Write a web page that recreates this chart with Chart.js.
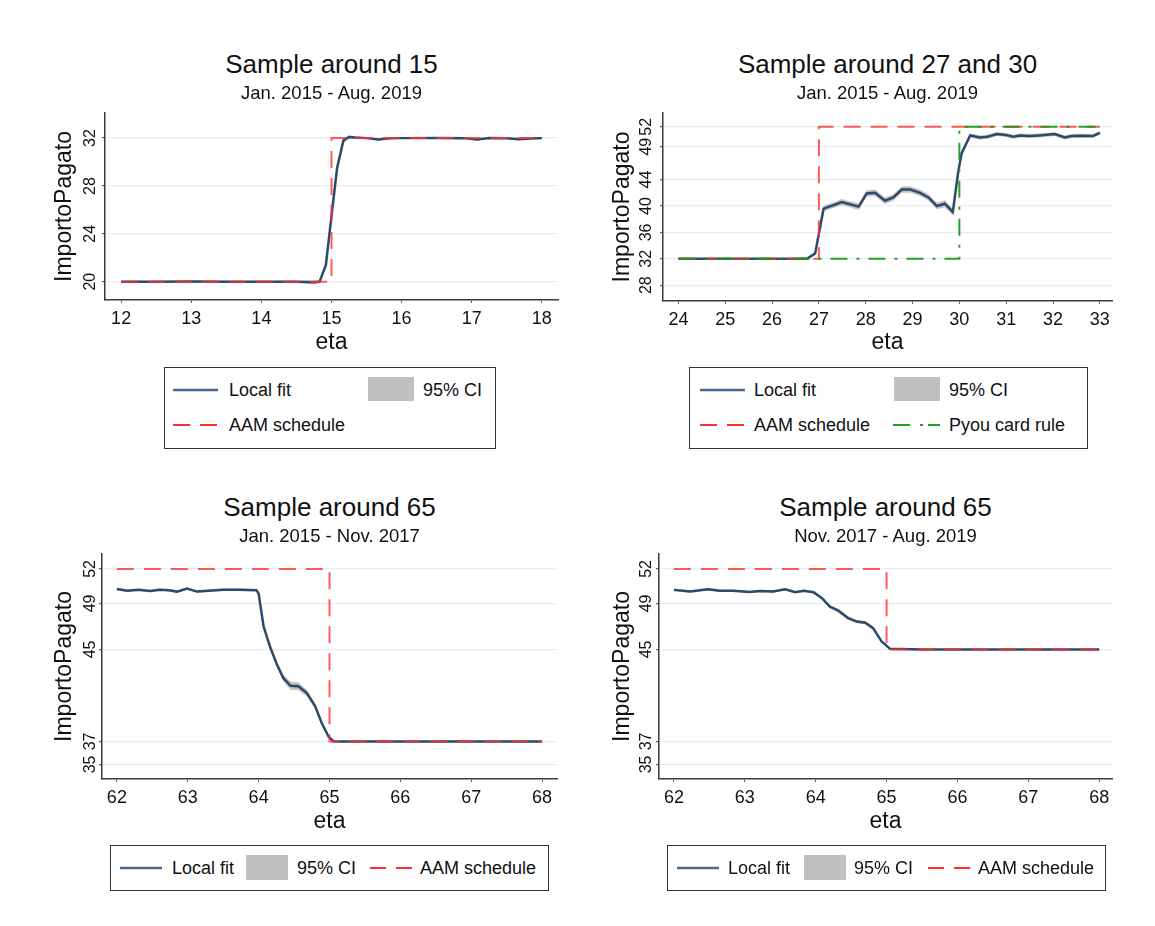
<!DOCTYPE html>
<html><head><meta charset="utf-8">
<script src="https://cdn.jsdelivr.net/npm/chart.js@4.4.1/dist/chart.umd.min.js"></script>
<style>
html,body{margin:0;padding:0;background:#fff;}
#page{position:relative;width:1155px;height:926px;overflow:hidden;font-family:"Liberation Sans",Arial,sans-serif;color:#111;}
.t{position:absolute;white-space:nowrap;line-height:1;}
.box{position:absolute;border:1.5px solid #333;box-sizing:border-box;}
canvas{position:absolute;}
svg{position:absolute;overflow:visible;}
</style></head><body><div id="page"></div>
<script>
// ---------- DATA ----------
const xTicks1 = [12, 13, 14, 15, 16, 17, 18];
const yTicks1 = [20, 24, 28, 32];
const xTicks2 = [24, 25, 26, 27, 28, 29, 30, 31, 32, 33];
const yTicks2 = [28, 32, 36, 40, 44, 49, 52];
const xTicks3 = [62, 63, 64, 65, 66, 67, 68];
const yTicks3 = [35, 37, 45, 49, 52];

// Sample around 15
const fitX1 = [12.0,12.5,13.0,13.5,14.0,14.5,14.75,14.83,14.92,15.0,15.08,15.17,15.25,15.33,15.5,15.67,15.83,16.0,16.5,16.92,17.08,17.25,17.5,17.67,17.83,18.0];
const fitY1 = [20.0,20.0,20.02,20.0,20.0,20.0,19.95,20.0,21.4,25.5,29.5,31.8,32.1,32.05,32.0,31.88,31.98,32.0,32.0,31.98,31.88,32.0,31.98,31.9,31.97,32.0];
const ciLo1 = [19.92,19.93,19.94,19.93,19.93,19.92,19.78,19.88,21.2,25.2,29.2,31.6,31.95,31.95,31.92,31.8,31.9,31.93,31.93,31.9,31.8,31.92,31.9,31.82,31.88,31.9];
const ciHi1 = [20.08,20.07,20.1,20.07,20.07,20.08,20.12,20.12,21.6,25.8,29.8,32.0,32.25,32.15,32.08,31.96,32.06,32.07,32.07,32.06,31.96,32.08,32.06,31.98,32.06,32.1];
const aamX1 = [12, 15, 15, 18];
const aamY1 = [20, 20, 32, 32];

// Sample around 27 and 30
const fitX2 = [24.0,24.5,25.0,25.5,26.0,26.5,26.75,26.92,27.1,27.3,27.49,27.64,27.85,28.02,28.2,28.41,28.59,28.77,28.95,29.16,29.34,29.52,29.69,29.86,29.98,30.05,30.23,30.44,30.6,30.8,31.0,31.15,31.3,31.5,31.7,32.04,32.25,32.4,32.6,32.85,33.0];
const fitY2 = [32.0,32.0,32.0,32.0,32.0,32.0,32.05,32.8,39.6,40.1,40.6,40.3,39.9,41.9,42.0,40.8,41.3,42.5,42.5,42.0,41.3,40.0,40.35,39.1,45.4,48.0,50.7,50.4,50.5,50.9,50.75,50.5,50.7,50.6,50.7,50.9,50.4,50.6,50.65,50.6,51.1];
const ciLo2 = [31.9,31.9,31.9,31.9,31.9,31.9,31.9,32.5,39.15,39.65,40.15,39.85,39.4,41.4,41.5,40.3,40.8,42.0,42.0,41.5,40.8,39.5,39.8,38.6,44.9,47.6,50.4,50.1,50.2,50.6,50.45,50.2,50.4,50.3,50.4,50.6,50.1,50.3,50.35,50.3,50.8];
const ciHi2 = [32.1,32.1,32.1,32.1,32.1,32.1,32.2,33.1,40.05,40.55,41.05,40.75,40.4,42.4,42.5,41.3,41.8,43.0,43.0,42.5,41.8,40.5,40.9,39.6,45.9,48.4,51.0,50.7,50.8,51.2,51.05,50.8,51.0,50.9,51.0,51.2,50.7,50.9,50.95,50.9,51.4];
const aamX2 = [24, 27, 27, 33];
const aamY2 = [32, 32, 52, 52];
const pyouX2 = [24, 30, 30, 33];
const pyouY2 = [32, 32, 52, 52];

// Sample around 65, Jan. 2015 - Nov. 2017
const fitX3 = [62.0,62.15,62.3,62.47,62.6,62.73,62.85,62.99,63.13,63.34,63.5,63.71,63.97,64.0,64.07,64.16,64.26,64.35,64.45,64.56,64.68,64.8,64.89,64.99,65.06,65.5,66.0,66.5,67.0,67.5,68.0];
const fitY3 = [50.25,50.1,50.18,50.08,50.2,50.15,50.03,50.29,50.03,50.12,50.2,50.2,50.15,49.85,47.0,45.25,43.66,42.5,41.84,41.8,41.2,40.04,38.6,37.38,37.0,37.0,37.0,37.0,37.0,37.0,37.0];
const ciLo3 = [50.15,50.0,50.08,49.98,50.1,50.05,49.93,50.19,49.93,50.02,50.1,50.1,50.05,49.7,46.8,45.05,43.4,42.2,41.5,41.45,40.9,39.8,38.4,37.25,36.92,36.93,36.93,36.93,36.93,36.93,36.92];
const ciHi3 = [50.35,50.2,50.28,50.18,50.3,50.25,50.13,50.39,50.13,50.22,50.3,50.3,50.25,50.0,47.2,45.45,43.9,42.8,42.2,42.15,41.5,40.3,38.8,37.5,37.08,37.07,37.07,37.07,37.07,37.07,37.08];
const aamX3 = [62, 65, 65, 68];
const aamY3 = [52, 52, 37, 37];

// Sample around 65, Nov. 2017 - Aug. 2019
const fitX4 = [62.0,62.23,62.48,62.65,62.84,63.07,63.21,63.4,63.57,63.71,63.83,63.97,64.09,64.2,64.32,64.46,64.58,64.7,64.81,64.93,65.05,65.5,66.0,66.5,67.0,67.5,68.0];
const fitY4 = [50.18,50.04,50.24,50.1,50.1,50.0,50.08,50.04,50.24,49.98,50.1,49.98,49.45,48.72,48.37,47.72,47.42,47.33,46.85,45.7,45.05,45.0,45.0,45.0,45.0,45.0,45.0];
const ciLo4 = [50.06,49.94,50.14,50.0,50.0,49.9,49.98,49.94,50.14,49.88,50.0,49.88,49.33,48.6,48.22,47.57,47.27,47.18,46.72,45.6,44.97,44.94,44.94,44.94,44.94,44.94,44.94];
const ciHi4 = [50.3,50.14,50.34,50.2,50.2,50.1,50.18,50.14,50.34,50.08,50.2,50.08,49.57,48.84,48.52,47.87,47.57,47.48,46.98,45.8,45.13,45.06,45.06,45.06,45.06,45.06,45.06];
const aamX4 = [62, 65, 65, 68];
const aamY4 = [52, 52, 45, 45];

// ---------- STYLE / LAYOUT ----------
const FONT = '"Liberation Sans", Arial, sans-serif';
const C_FIT = '#2c4a6b', C_AAM = 'rgba(255,50,50,0.8)', C_PY = 'rgba(20,150,20,0.9)', C_CI = 'rgba(150,150,150,0.55)';
Chart.defaults.font.family = FONT;
Chart.defaults.color = '#111';
const page = document.getElementById('page');

function pts(xs, ys) { return xs.map((x, i) => ({x: x, y: ys[i]})); }

function text(str, x, baseline, size, align) {
  const d = document.createElement('div');
  d.className = 't';
  d.textContent = str;
  d.style.fontSize = size + 'px';
  d.style.top = (baseline - 0.8465 * size) + 'px';
  if (align === 'center') { d.style.left = (x - 400) + 'px'; d.style.width = '800px'; d.style.textAlign = 'center'; }
  else d.style.left = x + 'px';
  page.appendChild(d);
}
function box(l, t, r, b, cls, bg) {
  const d = document.createElement('div');
  d.className = cls || 'box';
  d.style.position = 'absolute';
  d.style.left = l + 'px'; d.style.top = t + 'px';
  d.style.width = (r - l) + 'px'; d.style.height = (b - t) + 'px';
  if (bg) d.style.background = bg;
  page.appendChild(d);
}
function swatchLine(x1, x2, y, color, w, dash) {
  const s = document.createElementNS('http://www.w3.org/2000/svg', 'svg');
  s.setAttribute('width', x2 - x1); s.setAttribute('height', 1);
  s.style.left = x1 + 'px'; s.style.top = y + 'px';
  s.innerHTML = '<line x1="0" y1="0" x2="' + (x2 - x1) + '" y2="0" stroke="' + color + '" stroke-width="' + w + '"' + (dash ? ' stroke-dasharray="' + dash + '"' : '') + '/>';
  page.appendChild(s);
}

const yTickPlugin = {
  id: 'yTickLabels',
  afterDraw(chart, args, opts) {
    const s = chart.scales.y, ctx = chart.ctx;
    const fs = 16;
    ctx.save();
    ctx.font = fs + 'px ' + FONT;
    ctx.fillStyle = '#111';
    ctx.textAlign = 'center';
    ctx.textBaseline = 'alphabetic';
    for (const v of opts.values) {
      const y = s.getPixelForValue(v);
      ctx.save();
      ctx.translate(chart.chartArea.left - opts.off + 0.358 * fs, y);
      ctx.rotate(-Math.PI / 2);
      ctx.fillText(String(v), 0, 0);
      ctx.restore();
    }
    ctx.restore();
  }
};

function panel(p) {
  const cl = Math.round(p.yTitleX - 13.8), ct = Math.round(p.area.t) - 12;
  const cr = Math.round(p.area.r) + 8, cb = Math.round(p.xTitleY + 13.8);
  const cv = document.createElement('canvas');
  cv.width = cr - cl; cv.height = cb - ct;
  cv.style.left = cl + 'px'; cv.style.top = ct + 'px';
  cv.style.width = (cr - cl) + 'px'; cv.style.height = (cb - ct) + 'px';
  page.appendChild(cv);
  const yW = p.area.l - cl, xH = cb - p.area.b;
  const datasets = [
    {data: pts(p.fit[0], p.lo), borderWidth: 0, pointRadius: 0, fill: false, borderColor: 'transparent', order: 5},
    {data: pts(p.fit[0], p.hi), borderWidth: 0, pointRadius: 0, fill: 0, backgroundColor: C_CI, borderColor: 'transparent', order: 4},
    {data: pts(p.fit[0], p.fit[1]), borderColor: C_FIT, borderWidth: 2.5, pointRadius: 0, fill: false, order: 3},
    {data: pts(p.aam[0], p.aam[1]), borderColor: C_AAM, borderWidth: 2, borderDash: [17, 10], pointRadius: 0, fill: false, order: 2}
  ];
  if (p.py) datasets.push({data: pts(p.py[0], p.py[1]), borderColor: C_PY, borderWidth: 2, borderDash: [17, 9, 3, 9], pointRadius: 0, fill: false, order: 1});
  new Chart(cv, {
    type: 'line',
    data: {datasets: datasets},
    options: {
      responsive: false, animation: false, devicePixelRatio: 1,
      layout: {padding: {top: 12, right: 8, left: 0, bottom: 0}},
      plugins: {legend: {display: false}, tooltip: {enabled: false}, yTickLabels: {values: p.yt, off: p.tickOff}},
      elements: {line: {tension: 0}},
      scales: {
        x: {
          type: 'linear', position: 'bottom', min: p.xr[0], max: p.xr[1],
          afterBuildTicks: s => { s.ticks = p.xt.map(v => ({value: v})); },
          afterFit: s => { s.height = xH; },
          grid: {drawOnChartArea: false, drawTicks: true, tickLength: 3, tickColor: '#666'},
          border: {display: true, color: '#3a3a3a', width: 1.5},
          ticks: {font: {size: 18}, color: '#111', padding: 5, maxRotation: 0, autoSkip: false, callback: v => String(v)},
          title: {display: true, text: 'eta', font: {size: 23}, color: '#111', padding: 0}
        },
        y: {
          type: 'linear', position: 'left', min: p.yr[0], max: p.yr[1],
          afterBuildTicks: s => { s.ticks = p.yt.map(v => ({value: v})); },
          afterFit: s => { s.width = yW; },
          grid: {color: '#e5eef1', lineWidth: 1.3, drawTicks: true, tickLength: 3, tickColor: '#666'},
          border: {display: true, color: '#3a3a3a', width: 1.5},
          ticks: {display: false},
          title: {display: true, text: 'ImportoPagato', font: {size: 23}, color: '#111', padding: 0}
        }
      }
    },
    plugins: [yTickPlugin]
  });
  const cx = (p.area.l + p.area.r) / 2;
  text(p.title, cx, p.titleY, 26, 'center');
  text(p.sub, cx, p.titleY + 26.5, 18.5, 'center');
}

panel({title: 'Sample around 15', sub: 'Jan. 2015 - Aug. 2019', area: {l: 105, r: 558, t: 113, b: 300}, yTitleX: 65, xTitleY: 342, tickOff: 16,
  xr: [11.77, 18.23], yr: [18.47, 34.1], xt: xTicks1, yt: yTicks1, fit: [fitX1, fitY1], lo: ciLo1, hi: ciHi1, aam: [aamX1, aamY1], titleY: 73.5});
panel({title: 'Sample around 27 and 30', sub: 'Jan. 2015 - Aug. 2019', area: {l: 663, r: 1112, t: 113, b: 301}, yTitleX: 622.5, xTitleY: 342, tickOff: 18,
  xr: [23.67, 33.26], yr: [25.6, 54.1], xt: xTicks2, yt: yTicks2, fit: [fitX2, fitY2], lo: ciLo2, hi: ciHi2, aam: [aamX2, aamY2], py: [pyouX2, pyouY2], titleY: 73.5});
panel({title: 'Sample around 65', sub: 'Jan. 2015 - Nov. 2017', area: {l: 102, r: 557, t: 554, b: 779}, yTitleX: 65, xTitleY: 821, tickOff: 13,
  xr: [61.79, 68.21], yr: [33.73, 53.3], xt: xTicks3, yt: yTicks3, fit: [fitX3, fitY3], lo: ciLo3, hi: ciHi3, aam: [aamX3, aamY3], titleY: 516});
panel({title: 'Sample around 65', sub: 'Nov. 2017 - Aug. 2019', area: {l: 659, r: 1112, t: 554, b: 779}, yTitleX: 622.5, xTitleY: 821, tickOff: 14,
  xr: [61.79, 68.18], yr: [33.73, 53.3], xt: xTicks3, yt: yTicks3, fit: [fitX4, fitY4], lo: ciLo4, hi: ciHi4, aam: [aamX4, aamY4], titleY: 516});

// ---------- LEGENDS ----------
const LS = 18;
// legend 1
box(164, 367, 496, 449);
swatchLine(173, 218, 389.5, '#4a6a8a', 2.5);
text('Local fit', 229, 396, LS);
box(368, 377, 414, 401, 'sw', '#c0c0c0');
text('95% CI', 423, 396, LS);
swatchLine(173, 218, 425, '#ff3030', 2, '17 10');
text('AAM schedule', 229, 431.5, LS);
// legend 2
box(689, 367, 1088, 449);
swatchLine(700, 745, 389.5, '#4a6a8a', 2.5);
text('Local fit', 754, 396, LS);
box(894, 377, 940, 401, 'sw', '#c0c0c0');
text('95% CI', 949, 396, LS);
swatchLine(700, 745, 425, '#ff3030', 2, '17 10');
text('AAM schedule', 754, 431.5, LS);
swatchLine(893, 940, 425, '#20a020', 2, '17 10 3 5 12');
text('Pyou card rule', 949, 431.5, LS);
// legend 3
box(110, 845, 549, 891);
swatchLine(120, 162, 867.5, '#4a6a8a', 2.5);
text('Local fit', 172, 874, LS);
box(246, 855, 288, 880, 'sw', '#c0c0c0');
text('95% CI', 297, 874, LS);
swatchLine(370, 412, 867.5, '#ff3030', 2, '16 10');
text('AAM schedule', 420, 874, LS);
// legend 4
box(667, 845, 1106, 891);
swatchLine(677, 719, 867.5, '#4a6a8a', 2.5);
text('Local fit', 728, 874, LS);
box(804, 855, 846, 880, 'sw', '#c0c0c0');
text('95% CI', 854, 874, LS);
swatchLine(928, 970, 867.5, '#ff3030', 2, '16 10');
text('AAM schedule', 978, 874, LS);
</script></body></html>
